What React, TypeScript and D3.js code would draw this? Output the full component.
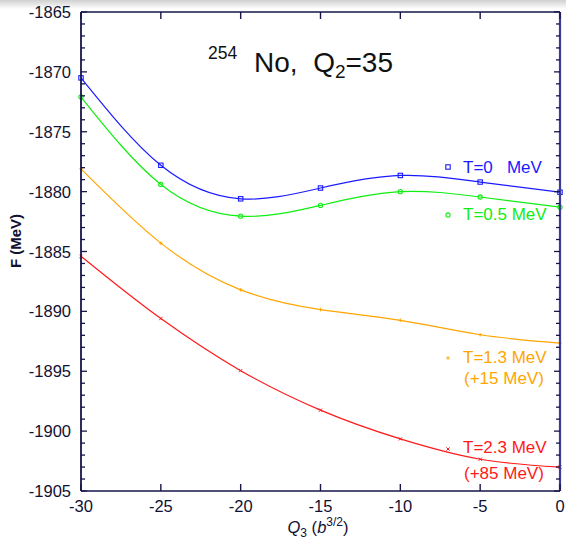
import React from "react";
import * as d3 from "d3";

const q3Values = [-30, -25, -20, -15, -10, -5, 0];
const t0Values = [-1870.5, -1877.8, -1880.6, -1879.7, -1878.65, -1879.2, -1880.05];
const t05Values = [-1872.1, -1879.4, -1882.05, -1881.15, -1880.0, -1880.45, -1881.3];
const t13Values = [-1878.1, -1884.3, -1888.2, -1889.85, -1890.75, -1891.95, -1892.65];
const t23Values = [-1885.4, -1890.6, -1894.95, -1898.25, -1900.65, -1902.35, -1903.0];
const xTicks = [-30, -25, -20, -15, -10, -5, 0];
const yTicks = [-1865, -1870, -1875, -1880, -1885, -1890, -1895, -1900, -1905];

const W = 566, H = 540;
const L = 81, R = 560, T = 12, B = 491;
const x = d3.scaleLinear().domain([-30, 0]).range([L, R]);
const y = d3.scaleLinear().domain([-1905, -1865]).range([B, T]);

const series = [
  { vals: t0Values, color: "#1a1aff", marker: "square", curve: d3.curveNatural },
  { vals: t05Values, color: "#11ee11", marker: "circle", curve: d3.curveNatural },
  { vals: t13Values, color: "#ffa500", marker: "plus", curve: d3.curveNatural },
  { vals: t23Values, color: "#ff1a1a", marker: "cross", curve: d3.curveMonotoneX },
];

function Marker({ type, cx, cy, color }: { type: string; cx: number; cy: number; color: string }) {
  if (type === "square")
    return <rect x={cx - 2.2} y={cy - 2.2} width={4.4} height={4.4} fill="none" stroke={color} strokeWidth={1.1} />;
  if (type === "circle") return <circle cx={cx} cy={cy} r={2.1} fill="none" stroke={color} strokeWidth={1.1} />;
  if (type === "plus")
    return (
      <path d={`M${cx - 1.8},${cy}H${cx + 1.8}M${cx},${cy - 1.8}V${cy + 1.8}`} stroke={color} strokeWidth={1} />
    );
  return (
    <path
      d={`M${cx - 1.6},${cy - 1.6}L${cx + 1.6},${cy + 1.6}M${cx - 1.6},${cy + 1.6}L${cx + 1.6},${cy - 1.6}`}
      stroke={color}
      strokeWidth={1}
    />
  );
}

export default function App() {
  const minor = d3.range(-1905, -1864, 1);
  const axisCol = "#16164a";
  const font = "'Liberation Sans', Arial, sans-serif";
  return (
    <svg width={W} height={H} style={{ position: "absolute", left: 0, top: 0, background: "#fff" }} fontFamily={font}>
      <defs>
        <linearGradient id="topfade" x1="0" y1="0" x2="0" y2="1">
          <stop offset="0" stopColor="#d0d0d0" />
          <stop offset="1" stopColor="#ffffff" />
        </linearGradient>
      </defs>
      <rect x={0} y={0} width={W} height={9} fill="url(#topfade)" />

      {/* curves */}
      {series.map((s, i) => {
        const line = d3
          .line<number>()
          .x((_, j) => x(q3Values[j]))
          .y((d) => y(d))
          .curve(s.curve);
        return <path key={i} d={line(s.vals) || ""} fill="none" stroke={s.color} strokeWidth={1.2} />;
      })}
      {series.map((s, i) =>
        s.vals.map((v, j) => <Marker key={`${i}-${j}`} type={s.marker} cx={x(q3Values[j])} cy={y(v)} color={s.color} />)
      )}

      {/* frame */}
      <line x1={L} x2={R} y1={T} y2={T} stroke={axisCol} strokeWidth={1.6} />
      <line x1={L} x2={R} y1={B} y2={B} stroke={axisCol} strokeWidth={1.6} />
      <line x1={L} x2={L} y1={T} y2={B} stroke={axisCol} strokeWidth={1.8} />
      <line x1={R} x2={R} y1={T} y2={B} stroke="#3c3c96" strokeWidth={2.2} />

      {/* y ticks */}
      {minor.map((v) => {
        const major = v % 5 === 0;
        const len = major ? 6 : 4;
        return (
          <g key={v}>
            <line x1={L} x2={L + len} y1={y(v)} y2={y(v)} stroke={axisCol} strokeWidth={1.3} />
            <line x1={R} x2={R - len} y1={y(v)} y2={y(v)} stroke={axisCol} strokeWidth={1.3} />
          </g>
        );
      })}
      {yTicks.map((v) => (
        <text key={v} x={71} y={y(v) + 6} textAnchor="end" fontSize={16.5} fill="#111133">
          {v}
        </text>
      ))}

      {/* x ticks */}
      {xTicks.map((v) => (
        <g key={v}>
          <line x1={x(v)} x2={x(v)} y1={B} y2={B - 7} stroke={axisCol} strokeWidth={1.4} />
          <line x1={x(v)} x2={x(v)} y1={T} y2={T + 7} stroke={axisCol} strokeWidth={1.4} />
          <text x={x(v)} y={512} textAnchor="middle" fontSize={16.5} fill="#111133">
            {v}
          </text>
        </g>
      ))}

      {/* axis titles */}
      <text x={318} y={533} textAnchor="middle" fontSize={16.5} fill="#111133">
        <tspan fontStyle="italic">Q</tspan>
        <tspan fontSize={12} dy={4}>3</tspan>
        <tspan dy={-4}> (</tspan>
        <tspan fontStyle="italic">b</tspan>
        <tspan fontSize={12} dy={-7}>3/2</tspan>
        <tspan dy={7}>)</tspan>
      </text>
      <text
        transform="translate(21,241) rotate(-90)"
        textAnchor="middle"
        fontSize={15}
        fontWeight="bold"
        fill="#111133"
      >
        F (MeV)
      </text>

      {/* title */}
      <text x={208} y={59} fontSize={17.5} fill="#111">
        254
      </text>
      <text x={254} y={72} fontSize={28} fill="#111">
        No,{"\u00a0\u00a0"}
        <tspan>Q</tspan>
        <tspan fontSize={19} dy={6}>2</tspan>
        <tspan dy={-6}>=35</tspan>
      </text>

      {/* legend */}
      <Marker type="square" cx={448} cy={167} color={series[0].color} />
      <text x={463} y={173} fontSize={17} fill={series[0].color}>
        T=0{"\u00a0\u00a0\u00a0"}MeV
      </text>
      <Marker type="circle" cx={448} cy={215} color={series[1].color} />
      <text x={463} y={220} fontSize={17} fill={series[1].color}>
        T=0.5 MeV
      </text>
      <Marker type="plus" cx={448} cy={358} color={series[2].color} />
      <text x={463} y={363} fontSize={17} fill={series[2].color}>
        T=1.3 MeV
      </text>
      <text x={464} y={384} fontSize={17} fill={series[2].color}>
        (+15 MeV)
      </text>
      <Marker type="cross" cx={448} cy={449} color={series[3].color} />
      <text x={463} y={453} fontSize={17} fill={series[3].color}>
        T=2.3 MeV
      </text>
      <text x={464} y={479} fontSize={17} fill={series[3].color}>
        (+85 MeV)
      </text>
    </svg>
  );
}
